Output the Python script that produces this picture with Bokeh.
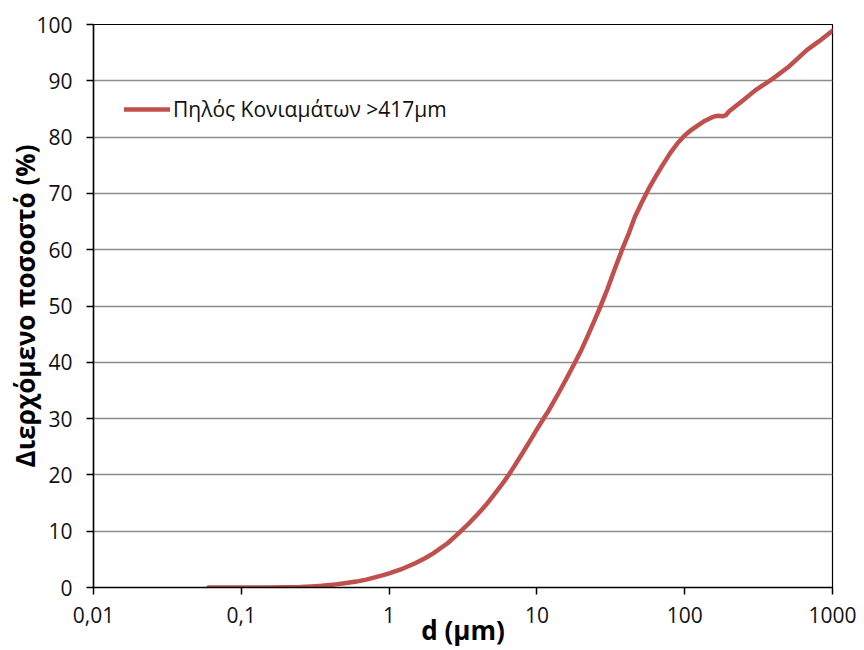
from bokeh.plotting import figure
from bokeh.models import Range1d, FixedTicker, Legend, LegendItem
from bokeh.embed import file_html
from bokeh.resources import INLINE

# Data (particle size d in μm, passing %)
d_um = [0.06, 0.1, 0.15, 0.2, 0.25, 0.3, 0.35, 0.4, 0.45, 0.5, 0.6, 0.7, 0.8, 0.9,
        1.0, 1.2, 1.5, 1.75, 2.0, 2.5, 3.0, 3.5, 4.0, 4.5, 5.0, 5.8, 6.6, 8.0, 9.0,
        10.0, 11.4, 12.0, 14.0, 16.0, 18.2, 20.0, 22.0, 24.5, 27.0, 30.0, 33.0, 37.7,
        42.0, 46.0, 51.0, 57.0, 63.0, 70.0, 80.0, 90.0, 100.0, 110.0, 120.0, 135.0,
        150.0, 160.0, 170.0, 180.0, 190.0, 200.0, 250.0, 300.0, 391.0, 500.0,
        673.0, 800.0, 1000.0]
passing = [0.0, 0.0, 0.02, 0.05, 0.1, 0.2, 0.3, 0.45, 0.6, 0.75, 1.05, 1.4, 1.8, 2.15,
           2.5, 3.2, 4.3, 5.2, 6.1, 7.9, 9.8, 11.5, 13.1, 14.6, 16.1, 18.3, 20.4, 23.9, 26.1,
           28.1, 30.5, 31.4, 34.5, 37.3, 40.1, 42.2, 44.6, 47.4, 50.0, 53.0, 56.0, 60.0,
           63.0, 65.8, 68.3, 70.8, 72.8, 74.8, 77.2, 79.0, 80.3, 81.2, 81.9, 82.8,
           83.4, 83.7, 83.8, 83.7, 83.9, 84.6, 86.6, 88.3, 90.3, 92.4,
           95.5, 96.9, 98.9]

series_name = "Πηλός Κονιαμάτων >417μm"
x_ticks = [0.01, 0.1, 1, 10, 100, 1000]
x_tick_labels = ["0,01", "0,1", "1", "10", "100", "1000"]
y_ticks = [0, 10, 20, 30, 40, 50, 60, 70, 80, 90, 100]
x_title = "d (μm)"
y_title = "Διερχόμενο ποσοστό (%)"

LINE_COLOR = "#C0504D"
FONT = "Open Sans"

p = figure(width=864, height=650, x_axis_type="log", output_backend="svg",
           toolbar_location=None,
           x_range=Range1d(0.01, 1000), y_range=Range1d(0, 100),
           min_border_left=93, min_border_right=32, min_border_top=24, min_border_bottom=63)

r = p.line(d_um, passing, line_color=LINE_COLOR, line_width=4.5, line_join="round", line_cap="round")

p.background_fill_color = "white"
p.border_fill_color = "white"
p.outline_line_color = "black"
p.outline_line_width = 1.2

p.xgrid.grid_line_color = None
p.ygrid.grid_line_color = "#8c8c8c"
p.ygrid.grid_line_width = 1.5

p.xaxis.ticker = FixedTicker(ticks=x_ticks)
p.xaxis.major_label_overrides = {t: l for t, l in zip(x_ticks, x_tick_labels)}
p.yaxis.ticker = FixedTicker(ticks=y_ticks)

for ax in (p.xaxis, p.yaxis):
    ax.axis_line_color = "black"
    ax.axis_line_width = 1.5
    ax.major_tick_line_color = "black"
    ax.major_tick_line_width = 1.5
    ax.major_tick_in = 0
    ax.major_tick_out = 7
    ax.minor_tick_line_color = None
    ax.major_label_text_font = FONT
    ax.major_label_text_font_size = "21px"
    ax.major_label_text_color = "#111111"
    ax.axis_label_text_font = FONT
    ax.axis_label_text_font_style = "bold"
    ax.axis_label_text_color = "#000000"

p.xaxis.axis_label = x_title
p.xaxis.axis_label_text_font_size = "26px"
p.xaxis.major_label_standoff = 12
p.xaxis.axis_label_standoff = -14

p.yaxis.axis_label = y_title
p.yaxis.axis_label_text_font_size = "26px"
p.yaxis.major_label_standoff = 14
p.yaxis.axis_label_standoff = -10

legend = Legend(items=[LegendItem(label=series_name, renderers=[r])],
                location=(31, 464), border_line_color=None, background_fill_alpha=0,
                padding=0, margin=0, glyph_width=46, label_standoff=3,
                label_text_font=FONT, label_text_font_size="21px", label_text_color="#111111")
p.add_layout(legend)

open("out.html", "w").write(file_html(p, INLINE))
